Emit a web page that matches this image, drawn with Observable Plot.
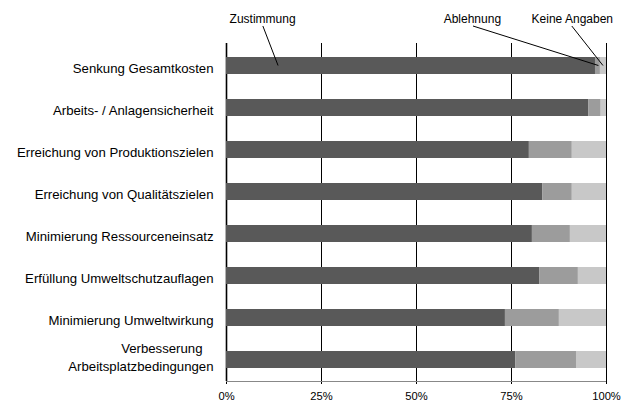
<!DOCTYPE html>
<html><head><meta charset="utf-8">
<script src="https://cdn.jsdelivr.net/npm/d3@7"></script>
<script src="https://cdn.jsdelivr.net/npm/@observablehq/plot@0.6"></script>
<style>body{margin:0;background:#fff} svg{display:block}</style>
</head><body><div id="chart"></div>
<script>
const categories = [
  "Senkung Gesamtkosten",
  "Arbeits- / Anlagensicherheit",
  "Erreichung von Produktionszielen",
  "Erreichung von Qualitätszielen",
  "Minimierung Ressourceneinsatz",
  "Erfüllung Umweltschutzauflagen",
  "Minimierung Umweltwirkung",
  "Verbesserung\u00a0\u00a0\u00a0\nArbeitsplatzbedingungen"
];
const zustimmung   = [97.1, 95.3, 79.7, 83.2, 80.5, 82.4, 73.4, 76.1];
const ablehnung    = [1.3, 3.3, 11.3, 7.8, 10.0, 10.2, 14.2, 16.0];
const keineAngaben = [1.6, 1.4, 9.0, 9.0, 9.5, 7.4, 12.4, 7.9];
const seriesNames  = ["Zustimmung", "Ablehnung", "Keine Angaben"];
const seriesColors = ["#595959", "#9c9c9c", "#c8c8c8"];
const xTicks = [0, 25, 50, 75, 100];
const annotationLabelX  = [9.5, 64.7, 91];
const annotationStartX  = [9.7, 65, 91];
const annotationTargetX = [13.7, 98, 99.2];

const rows = [];
categories.forEach((c, i) => {
  [zustimmung, ablehnung, keineAngaben].forEach((arr, j) =>
    rows.push({category: c, series: seriesNames[j], value: arr[i]}));
});
const annotations = seriesNames.map((s, i) => ({
  label: s, lx: annotationLabelX[i], sx: annotationStartX[i], tx: annotationTargetX[i], category: categories[0]
}));
const singleLine = categories.filter(c => !c.includes("\n"));
const multiLine = categories.filter(c => c.includes("\n"));

const marginTop = 43;
const plot = Plot.plot({
  width: 625, height: 403,
  marginLeft: 226, marginRight: 19, marginTop, marginBottom: 22,
  style: {fontFamily: "'Liberation Sans', Arial, sans-serif", background: "white", color: "black"},
  x: {domain: [0, 100], label: null},
  y: {domain: categories, paddingInner: 0.6, paddingOuter: 0.3, label: null},
  color: {domain: seriesNames, range: seriesColors},
  marks: [
    Plot.ruleX(xTicks, {stroke: "#000", strokeWidth: d => d === 0 ? 1.6 : 1}),
    Plot.barX(rows, Plot.stackX({x: "value", y: "category", fill: "series"})),
    Plot.axisY({ticks: singleLine, tickSize: 0, tickPadding: 13, fontSize: 13.2, dy: 2.5, label: null}),
    Plot.axisY({ticks: multiLine, tickSize: 0, tickPadding: 13, fontSize: 13.2, dy: -3.5, lineHeight: 1.3, label: null}),
    Plot.axisX({ticks: xTicks, tickFormat: d => d + "%", tickSize: 3, tickPadding: 8, fontSize: 11.2, label: null}),
    Plot.text(annotations, {x: "lx", text: "label", frameAnchor: "top", lineAnchor: "middle", dy: -24, fontSize: 12, fill: "black"})
  ]
});
document.getElementById("chart").appendChild(plot);

const xs = plot.scale("x"), ys = plot.scale("y");
const svg = d3.select(plot);
const bottom = 403 - 22;
svg.append("line")
  .attr("x1", xs.apply(0)).attr("x2", xs.apply(100))
  .attr("y1", bottom + 0.5).attr("y2", bottom + 0.5)
  .attr("stroke", "#888").attr("stroke-width", 1);
svg.append("g").selectAll("line").data(annotations).join("line")
  .attr("x1", d => xs.apply(d.sx)).attr("y1", marginTop - 17)
  .attr("x2", d => xs.apply(d.tx)).attr("y2", d => ys.apply(d.category) + ys.bandwidth / 2)
  .attr("stroke", "#000").attr("stroke-width", 1);
</script>
</body></html>
